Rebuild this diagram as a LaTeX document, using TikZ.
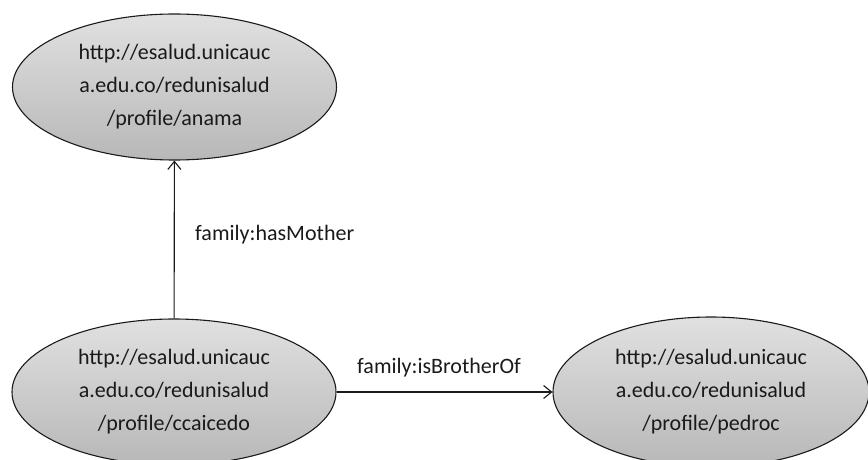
\documentclass[tikz,border=0pt]{standalone}
\usepackage{fontspec}
\setmainfont{Carlito}
\usetikzlibrary{shapes.geometric,arrows.meta}
\definecolor{ink}{HTML}{1A1A1A}
\tikzset{
  res/.style={ellipse, draw=ink, line width=1.1pt, top color=white!88!black, bottom color=white!72!black,
    minimum width=324pt, minimum height=146pt, inner sep=0pt, align=center, font=\fontsize{22}{33}\selectfont, text=ink},
  rel/.style={draw=ink, line width=1.1pt, -{Straight Barb[length=8pt,width=13pt,line width=1.1pt]}},
  lbl/.style={font=\fontsize{22}{26}\selectfont, text=ink, inner sep=0pt}
}
\begin{document}
\begin{tikzpicture}[x=1pt,y=-1pt]
\useasboundingbox (0,0) rectangle (868,460);
\clip (0,0) rectangle (868,460);
\node[res] (anama) at (174.5,87) {http://esalud.unicauc\\a.edu.co/redunisalud\\/profile/anama};
\node[res] (ccaicedo) at (174,392) {http://esalud.unicauc\\a.edu.co/redunisalud\\/profile/ccaicedo};
\node[res, minimum width=316pt, minimum height=150pt] (pedroc) at (711,392) {http://esalud.unicauc\\a.edu.co/redunisalud\\/profile/pedroc};
\draw[rel] (ccaicedo) -- (anama);
\draw[rel] (ccaicedo) -- (pedroc);
\node[lbl, anchor=west] (l1) at (195,235) {family:hasMother};
\node[lbl, anchor=west] (l2) at (357,368) {family:isBrotherOf};
\end{tikzpicture}
\end{document}
